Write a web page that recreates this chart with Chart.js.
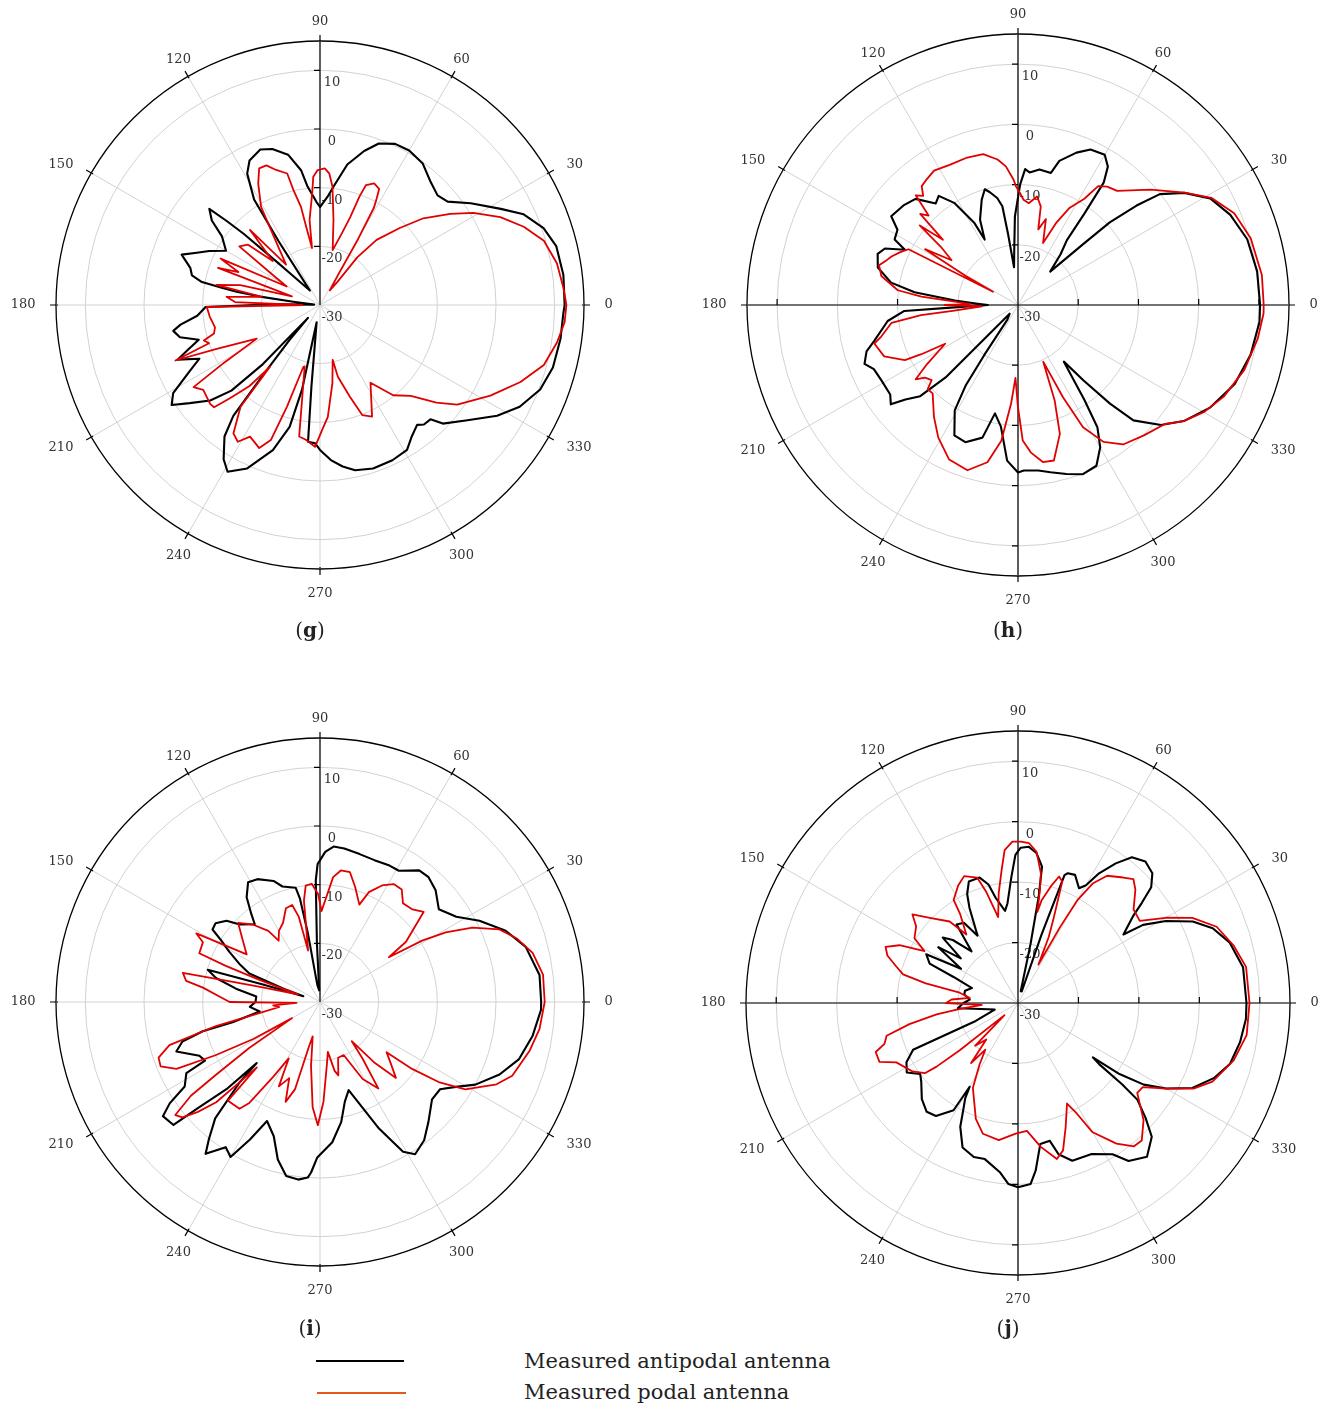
<!DOCTYPE html>
<html>
<head>
<meta charset="utf-8">
<script src="https://cdn.jsdelivr.net/npm/chart.js@4/dist/chart.umd.min.js"></script>
<style>
  body { margin: 0; background: #fff; width: 1321px; height: 1409px; position: relative; overflow: hidden;
         font-family: "DejaVu Serif", serif; color: #222; }
  canvas { position: absolute; }
  .cap { position: absolute; font-size: 20px; transform: translate(-50%, -50%); }
  .legline { position: absolute; height: 0; }
  .legtext { position: absolute; font-size: 21px; transform: translateY(-50%); white-space: nowrap; }
</style>
</head>
<body>
<canvas id="chartG" width="640" height="640" style="left:0px;top:-15px"></canvas>
<canvas id="chartH" width="640" height="640" style="left:698px;top:-15px"></canvas>
<canvas id="chartI" width="640" height="640" style="left:0px;top:682px"></canvas>
<canvas id="chartJ" width="640" height="640" style="left:698px;top:683px"></canvas>

<div class="cap" style="left:310px;top:630px">(<b>g</b>)</div>
<div class="cap" style="left:1008px;top:630px">(<b>h</b>)</div>
<div class="cap" style="left:310px;top:1328px">(<b>i</b>)</div>
<div class="cap" style="left:1008px;top:1328px">(<b>j</b>)</div>

<div class="legline" style="left:316px;top:1360px;width:88px;border-top:2.5px solid #000"></div>
<div class="legline" style="left:317px;top:1392px;width:89px;border-top:2.5px solid #e4581c"></div>
<div class="legtext" style="left:524px;top:1361px">Measured antipodal antenna</div>
<div class="legtext" style="left:524px;top:1392px">Measured podal antenna</div>

<script>
// angle (deg, counter-clockwise from 0 at the right) and gain (dB)
const angleLabels = [0, 30, 60, 90, 120, 150, 180, 210, 240, 270, 300, 330];
const tickValues  = [-30, -20, -10, 0, 10];
const leftAxisTicks = [-10, 10];

const gAnti = [[0,11.7],[7,11.8],[14,11.5],[19,10.3],[24,8.0],[28,4.9],[34,1.0],[39,-2.0],[43,-2.6],[48,-1.8],[54,-0.2],[60,0.4],[65,0.3],[70,-0.7],[74,-2.7],[79,-5.6],[83,-9.3],[86,-11.5],[90,-13.3],[92,-12.4],[96,-9.7],[98,-6.8],[102,-3.8],[107,-2.2],[111,-1.6],[116,-2.6],[119,-4.4],[122,-8.8],[123,-17],[125,-27],[133,-23],[135,-19.6],[137,-12.2],[138,-8.6],[139,-5],[142,-6.6],[145,-9.6],[150,-11.5],[154,-9],[157,-7.2],[160,-4.9],[164,-7],[167,-7.6],[169,-9.5],[170,-13],[171,-15.6],[172,-19.7],[173,-25.4],[176,-29],[179,-22],[181,-10.5],[185,-9],[188,-6],[190,-4.6],[193,-5.5],[196,-8.5],[199,-6],[201,-4],[204,-7.5],[207,-5],[211,-0.8],[214,0.5],[217,-2.2],[221,-5.2],[224,-9],[226,-16],[227,-27],[229,-22],[231,-14],[232,-6],[234,-2.3],[238,1.0],[241,2.5],[246,0.5],[252,-4],[256,-8.6],[258,-15.2],[259,-27],[264,-16],[265,-6.6],[268,-6.4],[270,-5.3],[274,-3.5],[278,-2.2],[282,-1.2],[288,-0.7],[295,-0.8],[301,-1.2],[305,-2.7],[309,-3.7],[311,-3.0],[314,-2.9],[316,-0.9],[322,1.9],[328,5.6],[333,8.2],[339,10.2],[345,11.1],[352,11.4],[358,11.5]];
const gPod = [[0,12.0],[4,11.6],[10,11.0],[16,9.7],[21,7.2],[26,4.2],[31,0.5],[35,-2.9],[40,-7],[44,-11.1],[49,-15.3],[52,-19.7],[53,-25],[56,-27],[59,-24],[60,-17],[61,-11],[62,-9.4],[63,-7.8],[66,-7.3],[69,-8.1],[70,-10.3],[71,-14.1],[73,-17.2],[77,-20.4],[81,-15.3],[84,-9.7],[86,-7.5],[88,-6.7],[91,-7],[93,-8.1],[94,-10.9],[97,-15.4],[98,-20.2],[100,-16.5],[101,-12.9],[103,-9.9],[104,-6.9],[108,-5.8],[111,-4.5],[114,-4.5],[117,-6.8],[121,-10.5],[124,-15.9],[127,-19],[130,-21],[133,-12.5],[137,-19],[140,-14],[144,-13],[148,-21],[151,-23.5],[155,-11.3],[158,-15],[160,-11.5],[163,-25],[166,-16],[169,-12],[172,-20],[175,-14],[178,-15.5],[180,-27],[181,-10.7],[186,-11.1],[192,-11.7],[195,-11.3],[197,-9.3],[199,-10],[201,-3.6],[203,-10.7],[208,-17.8],[211,-11],[213,-4.3],[216,-5.4],[222,-4.8],[224,-4.9],[226,-7.9],[229,-11.7],[231,-16.5],[232,-8],[236,-3.6],[239,-2.8],[242,-4.6],[247,-3.5],[250,-5.5],[252,-11.8],[255,-19.1],[256,-19.2],[261,-7.3],[264,-6.9],[268,-5.8],[271,-8.7],[274,-10.9],[279,-16.5],[283,-20.4],[284,-17.4],[288,-13.6],[291,-9.9],[295,-9],[303,-14.2],[309,-10.2],[315,-8.1],[320,-4.1],[324,-1.1],[332,2.9],[339,6.6],[345,9.5],[351,10.9],[356,11.8]];

const hAnti = [[0,10.2],[8,10.1],[16,9.6],[23,8.3],[29,6.5],[34,3.3],[38,-0.1],[40,-4.3],[42,-9.5],[43,-15],[46,-22.3],[50,-19],[53,-16.5],[54,-11.2],[55,-5.2],[57,-2.6],[60,-1.2],[65,-1.5],[69,-2.9],[74,-5.1],[76,-7.4],[81,-7.2],[85,-7.9],[87,-7.4],[89,-10],[92,-15.3],[94,-21],[96,-23.7],[98,-18],[99,-13.4],[101,-11.9],[104,-10.7],[106,-10],[109,-11.5],[114,-14.5],[117,-17.8],[118,-14.6],[122,-10],[126,-7.6],[129,-8.3],[134,-5.5],[139,-4.8],[145,-4.3],[148,-6.4],[152,-6.8],[154,-9.1],[157,-6],[160,-5.2],[165,-5.9],[170,-8.6],[173,-12.7],[176,-19.5],[178,-23],[180,-25],[182,-20],[183,-11.1],[187,-8.2],[194,-5.4],[197,-3.7],[201,-2.7],[204,-3.8],[209,-4.1],[215,-4.1],[218,-3.2],[220,-5.6],[223,-7.8],[225,-13],[226,-28],[234,-27],[236,-20],[237,-14],[239,-9.6],[244,-5.9],[249,-5.6],[255,-7.2],[258,-11.6],[262,-9.6],[266,-4.1],[270,-2.2],[272,-2.5],[277,-2.3],[281,-1.7],[286,-0.8],[291,0.1],[296,-0.3],[300,-2.7],[303,-5.8],[305,-10.8],[309,-17.9],[311,-13.4],[313,-7.6],[315,-2.9],[320,1],[325,3.6],[332,6.2],[340,8.3],[348,9.5],[356,10.2]];
const hPod = [[0,10.8],[7,10.8],[16,10.2],[23,9],[29,6.7],[34,3.4],[41,-0.8],[49,-4.9],[53,-5.4],[56,-6.2],[58,-9.2],[62,-11.7],[65,-14.9],[68,-18.9],[72,-15],[75,-17],[77,-13.2],[80,-11.7],[84,-13],[87,-12.5],[89,-11.4],[91,-10.3],[92,-9.2],[95,-6.9],[98,-5.6],[103,-4.3],[109,-4.1],[116,-4.1],[122,-3.7],[126,-4.2],[129,-4.6],[131,-6],[133,-5.1],[135,-9],[137,-7.8],[139,-13.5],[141,-9],[143,-14],[146,-16.7],[149,-12],[151,-20],[152,-25.3],[153,-9.6],[156,-8.5],[159,-7.5],[161,-7],[164,-6],[168,-6.8],[173,-9.9],[175,-13.9],[177,-19.5],[179,-22],[180,-17.8],[182,-24],[185,-19.4],[186,-13.8],[188,-8.8],[193,-6.7],[195,-5.3],[201,-6.2],[206,-9.1],[207,-12],[208,-16.3],[213,-12],[216,-9],[218,-10.4],[221,-11],[223,-9.5],[226,-9.6],[233,-6.8],[239,-4.3],[246,-1.9],[253,-1.3],[259,-3.4],[263,-7.3],[266,-13.6],[268,-17.9],[270,-13],[272,-7.5],[275,-5.4],[279,-3.6],[283,-3.5],[288,-7.5],[291,-13],[294,-19.7],[296,-12.9],[298,-7],[302,-3.2],[307,-1],[314,0.1],[321,1.4],[325,3.6],[330,5.6],[336,7.4],[344,9.1],[352,10.2],[358,10.8]];

const iAnti = [[0,7.7],[7,7.7],[15,6.3],[21,3.9],[27,0.5],[32,-2.6],[38,-4.3],[44,-2.6],[49,-1.8],[53,-1.9],[59,-3.9],[63,-3.9],[69,-4.1],[75,-3.9],[81,-3.5],[85,-3.4],[88,-4.4],[91,-6.5],[92,-9.3],[93,-20],[94,-28],[99,-27],[100,-18],[101,-12],[102,-10.1],[108,-9.3],[111,-7.9],[117,-6.5],[121,-6.2],[125,-8.2],[128,-11],[130,-12.7],[136,-11],[139,-8.9],[143,-7.7],[146,-7.9],[148,-10.1],[151,-12.3],[155,-15],[158,-17],[160,-23.5],[161,-27],[163,-20],[164,-10.1],[167,-11.8],[171,-15.5],[175,-19.1],[180,-19],[184,-18],[189,-19.6],[193,-14.7],[194,-9.4],[196,-5.6],[199,-4.1],[204,-7.5],[207,-8],[208,-4.2],[212,-2.8],[214,0.9],[216,3.1],[220,2.6],[221,-2.5],[223,-8.2],[224,-15],[225,-10.6],[228,-3.3],[231,0.1],[233,2.4],[237,-0.5],[240,0.5],[243,-3.7],[246,-7.8],[251,-5.8],[255,-2.2],[259,0.2],[263,0.5],[266,0],[267,-0.9],[269,-3.5],[275,-6],[280,-9.2],[284,-12.5],[288,-14.2],[292,-10.5],[295,-6.2],[299,-0.8],[302,0.6],[307,-0.5],[312,-2.4],[319,-4.7],[324,-4.7],[328,-2.7],[332,0],[338,3],[344,5.3],[351,6.7],[358,7.7]];
const iPod = [[0,8.3],[7,8.3],[13,7.2],[18,5.2],[22,3],[26,-1.1],[29,-5.5],[31,-9.7],[33,-16],[35,-12.1],[41,-6.6],[45,-7.7],[50,-8],[54,-6.3],[58,-6.3],[62,-7.5],[66,-9.5],[68,-12.1],[73,-9.5],[77,-7.3],[81,-7.3],[84,-8.6],[89,-14.5],[91,-11.6],[94,-9.8],[97,-10],[99,-12.5],[103,-21],[104,-15],[106,-12.8],[110,-13],[115,-15.1],[120,-16],[124,-17.4],[126,-15],[131,-12.5],[136,-10.6],[141,-13],[147,-15.1],[151,-5.9],[153,-7.6],[158,-7.8],[159,-12.7],[160,-19],[161,-26],[166,-19],[167,-15],[168,-6.1],[171,-6.9],[173,-9.9],[177,-12.9],[180,-14.6],[182,-26],[184,-22],[187,-23],[190,-20.2],[193,-11.8],[196,-3.3],[199,-0.9],[202,-0.7],[205,-3],[207,-10],[209,-17],[210,-24.5],[213,-15.6],[215,-8.3],[216,-2.8],[218,1.3],[220,0.6],[222,-2],[224,-5.4],[225,-11],[226,-14.5],[227,-7],[233,-7.2],[235,-9],[238,-15],[241,-19],[244,-14],[248,-16],[251,-12],[254,-14.5],[256,-22],[258,-24],[262,-19],[266,-12],[269,-9],[272,-13],[276,-19],[279,-21.4],[282,-18],[284,-17.1],[288,-20],[294,-20.1],[299,-15],[304,-12.2],[307,-18],[309,-21.4],[312,-16],[315,-11.7],[319,-14],[323,-15.8],[324,-10.6],[326,-5.6],[329,-1.1],[335,3.2],[339,5.1],[347,6.7],[353,7.7]];

const jAnti = [[0,7.8],[9,7.7],[16,6.4],[21,4.5],[25,1.9],[29,-2],[32,-5.6],[33,-9.2],[37,-6.2],[39,-3.6],[41,-0.8],[44,0.9],[48,1.5],[52,0.6],[55,-1.8],[58,-4.7],[60,-7.5],[62,-8.5],[66,-6.8],[69,-7],[70,-7.5],[71,-18],[72,-28],[77,-28],[78,-20],[79,-12],[80,-7.1],[83,-5],[86,-4.1],[89,-4.3],[91,-5.5],[93,-9.1],[96,-13.4],[98,-14.6],[102,-12.2],[104,-9.8],[107,-8.3],[112,-8.3],[115,-10.1],[117,-12.3],[121,-17],[124,-14],[128,-13.5],[132,-18.5],[136,-15],[139,-13.5],[142,-18],[145,-13.9],[149,-19],[152,-12.8],[156,-14],[158,-18.5],[162,-22],[167,-21],[171,-21],[176,-22],[180,-21],[185,-20],[192,-25],[196,-26],[203,-22.4],[204,-11],[208,-9.1],[212,-8.3],[216,-10],[219,-9.4],[225,-7.5],[230,-6.5],[234,-6.9],[239,-9.3],[240,-14],[241,-12],[243,-10],[245,-7.4],[249,-4.4],[254,-3.5],[258,-3.6],[264,-1.8],[267,0],[270,0.5],[274,0],[276,-2.1],[279,-6.4],[283,-6.6],[285,-4.1],[289,-2.4],[296,-2.2],[302,-0.5],[305,1.9],[310,3.2],[315,1.3],[318,-1.6],[321,-4.6],[322,-8.1],[323,-13.2],[324,-14.7],[325,-9.5],[327,-5.2],[330,-1.7],[334,2.1],[339,4.7],[344,6.5],[350,7.3],[356,7.8]];
const jPod = [[0,8.3],[9,8.2],[15,6.9],[21,5.2],[26,2.1],[30,-1.8],[34,-5.7],[39,-5.4],[44,-3],[47,-2],[50,-2.9],[55,-4.3],[58,-6.7],[60,-10.4],[61,-15.6],[62,-22.8],[65,-18],[67,-15.1],[70,-8.6],[72,-8],[74,-9.7],[77,-12.5],[78,-14.6],[79,-11],[80,-8.2],[83,-4.8],[86,-3.5],[89,-3.3],[92,-3.3],[95,-4.6],[97,-7.8],[100,-11.6],[103,-15.4],[106,-10.8],[108,-8.2],[113,-7.2],[117,-8.2],[122,-9.9],[123,-12.4],[127,-15.8],[130,-12.4],[136,-9.7],[140,-7.2],[143,-8.9],[148,-9.8],[151,-12.3],[154,-8.2],[157,-6.2],[160,-7],[163,-8.8],[166,-10.4],[168,-14.4],[170,-20.2],[174,-22],[177,-19],[180,-18.1],[183,-24],[186,-20],[188,-16.4],[191,-11.7],[194,-7.6],[197,-6.9],[199,-5.1],[203,-5.1],[206,-7.6],[213,-9.2],[217,-10.7],[218,-12.9],[219,-17.6],[222,-27],[225,-20],[229,-22],[232,-17.4],[235,-20.6],[238,-18],[242,-14.1],[250,-9.6],[255,-7.6],[262,-7.1],[269,-8.4],[274,-8.8],[279,-5.9],[284,-3.4],[287,-4.5],[291,-8],[296,-11.5],[298,-9.3],[300,-5.3],[305,-1.6],[309,0.5],[312,0.6],[317,-1.6],[323,-5.3],[326,-5.1],[330,-1.7],[334,2.3],[338,4.7],[345,6.9],[352,8.2]];

// radar runs clockwise from the top, so index i stands for (90 - i) degrees
const degreeLabels = Array.from({ length: 360 }, (_, i) => (450 - i) % 360);
const indexOf = deg => (450 - deg) % 360;

function toRadar(pairs) {
  const arr = new Array(360).fill(null);
  pairs.forEach(([deg, db]) => { arr[indexOf(deg)] = db; });
  return arr;
}

const labelFont = '13px "DejaVu Serif"';

const polarDecor = {
  id: 'polarDecor',
  beforeDatasetsDraw(chart, args, opts) {
    const s = chart.scales.r;
    const ctx = chart.ctx;
    const cx = s.xCenter, cy = s.yCenter;
    const R = s.getDistanceFromCenterForValue(s.max);

    ctx.save();
    ctx.strokeStyle = '#000';
    ctx.lineWidth = 1.2;
    ctx.beginPath();
    ctx.moveTo(cx, cy - R);
    ctx.lineTo(cx, opts.fullAxes ? cy + R : cy);
    if (opts.fullAxes) {
      ctx.moveTo(cx - R, cy);
      ctx.lineTo(cx + R, cy);
    }
    tickValues.forEach(v => {
      if (v <= s.min) return;
      const d = s.getDistanceFromCenterForValue(v);
      ctx.moveTo(cx - 6, cy - d); ctx.lineTo(cx, cy - d);
      if (opts.fullAxes) {
        ctx.moveTo(cx - 6, cy + d); ctx.lineTo(cx, cy + d);
        ctx.moveTo(cx + d, cy - 6); ctx.lineTo(cx + d, cy);
        if (leftAxisTicks.includes(v)) { ctx.moveTo(cx - d, cy - 6); ctx.lineTo(cx - d, cy); }
      }
    });
    angleLabels.forEach(a => {
      const p1 = s.getPointPosition(indexOf(a), R - 2);
      const p2 = s.getPointPosition(indexOf(a), R + 6);
      ctx.moveTo(p1.x, p1.y); ctx.lineTo(p2.x, p2.y);
    });
    ctx.stroke();

    ctx.fillStyle = '#333';
    ctx.font = labelFont;
    ctx.textAlign = 'center';
    ctx.textBaseline = 'middle';
    tickValues.forEach(v => {
      const d = s.getDistanceFromCenterForValue(v);
      ctx.fillText(String(v), cx + 12, cy - d + 12.5);
    });
    angleLabels.forEach(a => {
      const t = String(a);
      const w = ctx.measureText(t).width;
      const rad = a * Math.PI / 180;
      const cos = Math.cos(rad), sin = Math.sin(rad);
      const p = s.getPointPosition(indexOf(a), R + 19);
      let dx = 0, dy = 0;
      if (Math.abs(cos) > 0.8) dx = Math.sign(cos) * (w / 2 + 1.5);
      if (sin < -0.6) dy = 6;
      else if (Math.abs(cos) > 0.8 && Math.abs(sin) > 0.1) dy = 1;
      ctx.fillText(t, p.x + dx, p.y + dy);
    });
    ctx.restore();
  }
};

function makeChart(id, anti, pod, radius, fullAxes) {
  const pad = 320 - radius;
  return new Chart(document.getElementById(id), {
    type: 'radar',
    data: {
      labels: degreeLabels,
      datasets: [
        { label: 'Measured podal antenna', data: toRadar(pod), borderColor: '#e00000', borderWidth: 1.8 },
        { label: 'Measured antipodal antenna', data: toRadar(anti), borderColor: '#000', borderWidth: 2.1 }
      ]
    },
    options: {
      responsive: false,
      animation: false,
      spanGaps: true,
      layout: { padding: pad },
      elements: {
        point: { radius: 0, hitRadius: 0 },
        line: { tension: 0, fill: false, backgroundColor: 'transparent', borderJoinStyle: 'round' }
      },
      plugins: {
        legend: { display: false },
        tooltip: { enabled: false },
        polarDecor: { fullAxes }
      },
      scales: {
        r: {
          min: -30,
          max: 15,
          startAngle: 0,
          ticks: { display: false, stepSize: 10 },
          pointLabels: { display: false },
          grid: {
            circular: true,
            color: c => (c.tick && c.tick.value === 15 ? '#000' : '#d2d2d2'),
            lineWidth: c => (c.tick && c.tick.value === 15 ? 1.3 : 1)
          },
          angleLines: {
            color: '#d2d2d2',
            lineWidth: c => (degreeLabels[c.index] % 30 === 0 ? 1 : 0)
          }
        }
      }
    },
    plugins: [polarDecor]
  });
}

makeChart('chartG', gAnti, gPod, 264, false);
makeChart('chartH', hAnti, hPod, 271, true);
makeChart('chartI', iAnti, iPod, 264, false);
makeChart('chartJ', jAnti, jPod, 272, true);
</script>
</body>
</html>
